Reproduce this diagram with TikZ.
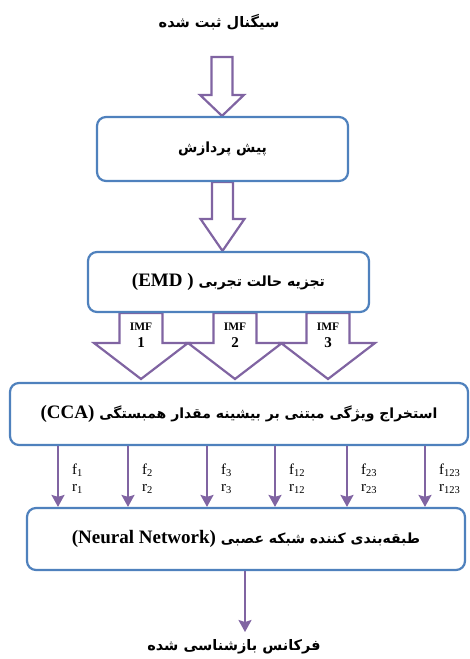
\documentclass[tikz,border=0pt]{standalone}
\usepackage{fontspec}
\setmainfont{Liberation Serif}
\newfontfamily\fafont[Script=Arabic]{DejaVu Sans}
\TeXXeTstate=1
\usetikzlibrary{arrows.meta,calc,backgrounds}

\definecolor{boxblue}{RGB}{79,129,189}
\definecolor{arrpurple}{RGB}{128,100,162}

% persian text, right to left
\newcommand\fa[1]{{\fafont\bfseries\beginR #1\endR}}
\newcommand\lat[1]{\beginL{\rmfamily\bfseries\fontsize{19}{21}\selectfont #1}\endL}

% hollow block arrow: start, tip, half shaft, half head, head length
\newcommand\fatarrow[5]{%
  \draw[fat] let \p1=(#1), \p2=(#2) in
    (\x1-#3,\y1) -- (\x1-#3,\y2+#5) -- (\x1-#4,\y2+#5) -- (\x1,\y2)
    -- (\x1+#4,\y2+#5) -- (\x1+#3,\y2+#5) -- (\x1+#3,\y1) -- cycle;}

\begin{document}
\begin{tikzpicture}[x=1pt, y=-1pt]
	\tikzset{stage/.style={draw=boxblue, line width=2.2pt, rounded corners=9pt, fill=white, inner sep=0pt, font=\fontsize{14}{16}\selectfont},
	endtext/.style={inner sep=1pt, font=\fontsize{14.5}{16}\selectfont},
	fat/.style={draw=arrpurple, line width=2.2pt, fill=white, line join=miter},
	thinarr/.style={draw=arrpurple, line width=2.2pt, -{Stealth[length=12pt, width=13pt, inset=2pt]}},
	lbl/.style={anchor=west, inner sep=0pt, font=\fontsize{15}{17}\selectfont},
	imf/.style={inner sep=0pt, font=\bfseries\fontsize{11.5}{13}\selectfont},
	num/.style={inner sep=0pt, font=\bfseries\fontsize{15}{17}\selectfont}};
	\useasboundingbox (0,0) rectangle (470,659);

	\node[endtext] (sig) at (219,22) {\fa{سیگنال ثبت شده}};
	\node[stage, minimum width=251pt, minimum height=64pt] (pre) at (222.5,149) {\fa{پیش پردازش}};
	\node[stage, minimum width=281pt, minimum height=60pt] (emd) at (228.5,282) {\fa{تجزیه حالت تجربی \lat{(EMD )}}};
	\node[stage, minimum width=458pt, minimum height=62pt] (cca) at (239,414) {\fa{استخراج ویژگی مبتنی بر بیشینه مقدار همبستگی \lat{(CCA)}}};
	\node[stage, minimum width=438pt, minimum height=62pt] (nn) at (246,539) {\fa{طبقه‌بندی کننده شبکه عصبی \lat{(Neural Network)}}};
	\node[endtext] (freq) at (234,647) {\fa{فرکانس بازشناسی شده}};

	\coordinate (in) at (222,57);
	\coordinate (out) at (245,632);

	\begin{scope}[on background layer]
		\fatarrow{in}{pre.north}{10.5pt}{22pt}{21pt}
		\fatarrow{pre.south}{emd.north}{10.5pt}{22pt}{32pt}
		\foreach \k/\x in {1/141,2/235,3/328}{
			\coordinate (imf\k) at (\x,379);
			\fatarrow{emd.south -| imf\k}{imf\k}{21.5pt}{47pt}{36pt}
		}
	\end{scope}

	% IMF labels inside the shafts
	\foreach \k/\x in {1/141,2/235,3/328}{
		\node[imf] (imft\k) at (\x,327) {IMF};
		\node[num] (imfn\k) at (\x,343) {\k};
	}

	% features passed to the classifier
	\foreach \i/\x/\s in {1/58/1,2/128/2,3/207/3,4/275/12,5/347/23,6/425/123}{
		\coordinate (x\i) at (\x,0);
		\draw[thinarr] (cca.south -| x\i) -- (nn.north -| x\i);
		\node[lbl] (f\i) at (\x+14,470) {f\textsubscript{\s}};
		\node[lbl] (r\i) at (\x+14,489) {r\textsubscript{\s}};
	}

	\draw[thinarr] (nn.south -| out) -- (out);
\end{tikzpicture}
\end{document}
